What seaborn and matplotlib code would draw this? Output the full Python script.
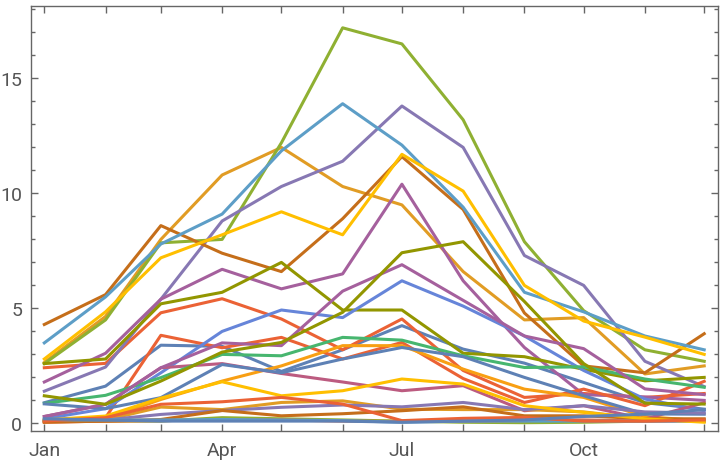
import pandas as pd
import seaborn as sns
import matplotlib.pyplot as plt
import matplotlib.dates as mdates
from matplotlib.ticker import MultipleLocator

plt.rcParams['font.family'] = ['Roboto', 'DejaVu Sans']
plt.rcParams['font.size'] = 14

months = pd.date_range('2023-01-01', periods=12, freq='MS')
month_labels = ['Jan', 'Apr', 'Jul', 'Oct']

# one list per series, Jan..Dec
steel_a = [0.9, 1.62, 3.4, 3.35, 2.26, 3.2, 4.25, 3.23, 2.62, 1.78, 0.9, 0.62]
orange_a = [2.65, 4.65, 8.0, 10.8, 12.0, 10.3, 9.5, 6.6, 4.5, 4.6, 2.15, 2.5]
green_a = [2.6, 4.5, 7.85, 8.0, 12.2, 17.2, 16.5, 13.2, 7.9, 4.9, 3.2, 2.7]
red_a = [2.42, 2.61, 4.81, 5.42, 4.54, 3.2, 4.54, 2.3, 1.13, 1.3, 1.13, 1.3]
lav_a = [1.4, 2.45, 5.4, 8.8, 10.3, 11.4, 13.8, 12.0, 7.3, 6.0, 2.7, 1.6]
brown_a = [4.3, 5.6, 8.6, 7.4, 6.6, 8.9, 11.6, 9.3, 4.8, 2.5, 2.2, 3.9]
sky_a = [3.5, 5.5, 7.8, 9.1, 11.85, 13.9, 12.1, 9.4, 5.7, 4.85, 3.8, 3.2]
yellow_a = [2.8, 4.85, 7.2, 8.2, 9.2, 8.2, 11.7, 10.1, 6.0, 4.45, 3.75, 3.0]
mag_a = [1.8, 3.05, 5.4, 6.7, 5.85, 6.5, 10.4, 6.2, 3.3, 1.25, 1.15, 1.0]
olive_a = [2.6, 2.8, 5.2, 5.7, 7.0, 4.93, 4.93, 3.05, 2.9, 2.35, 1.85, 2.0]
red_b = [0.1, 0.25, 3.83, 3.29, 3.74, 2.8, 3.52, 1.95, 0.91, 1.49, 0.77, 1.83]
blue_a = [0.2, 0.64, 2.2, 4.0, 4.93, 4.6, 6.2, 5.1, 3.8, 2.3, 1.06, 0.55]
orange2_a = [0.1, 0.2, 1.04, 1.84, 2.5, 3.38, 3.38, 2.36, 1.49, 1.13, 0.3, 0.1]
pink_a = [0.3, 0.83, 2.42, 2.6, 2.17, 1.8, 1.42, 1.64, 0.55, 0.77, 0.19, 0.9]
green2_a = [0.87, 1.22, 1.99, 3.0, 2.94, 3.74, 3.62, 2.94, 2.43, 2.46, 1.93, 1.57]
steel_b = [0.85, 0.64, 1.12, 2.56, 2.2, 2.8, 3.3, 2.9, 2.0, 1.2, 0.41, 0.4]
orange_b = [0.1, 0.15, 0.71, 0.6, 0.91, 0.98, 0.62, 0.6, 0.6, 0.5, 0.2, 0.1]
green_b = [0.1, 0.1, 0.1, 0.25, 0.2, 0.15, 0.1, 0.05, 0.03, 0.05, 0.1, 0.15]
red_c = [0.05, 0.1, 0.12, 0.15, 0.15, 0.1, 0.08, 0.1, 0.12, 0.15, 0.1, 0.1]
lav_b = [0.1, 0.15, 0.39, 0.56, 0.7, 0.8, 0.72, 0.91, 0.6, 0.77, 0.5, 0.45]
brown_b = [0.05, 0.1, 0.17, 0.56, 0.33, 0.42, 0.55, 0.72, 0.33, 0.33, 0.2, 0.2]
sky_b = [0.15, 0.15, 0.15, 0.17, 0.15, 0.12, 0.05, 0.1, 0.1, 0.1, 0.1, 0.1]
yellow_b = [0.15, 0.32, 1.1, 1.81, 1.2, 1.42, 1.93, 1.71, 0.77, 0.48, 0.2, 0.05]
mag_b = [0.3, 0.83, 2.42, 3.5, 3.38, 5.75, 6.9, 5.35, 3.8, 3.25, 1.5, 1.25]
olive_b = [1.2, 0.83, 1.84, 3.1, 3.52, 4.83, 7.42, 7.9, 5.3, 2.6, 0.88, 0.84]
red_d = [0.1, 0.25, 0.83, 0.94, 1.13, 0.84, 0.12, 0.22, 0.26, 0.1, 0.1, 0.15]
steel_c = [0.2, 0.15, 0.1, 0.1, 0.1, 0.1, 0.05, 0.1, 0.15, 0.3, 0.4, 0.6]

series = {
    'steel_a': steel_a, 'orange_a': orange_a, 'green_a': green_a, 'red_a': red_a,
    'lav_a': lav_a, 'brown_a': brown_a, 'sky_a': sky_a, 'yellow_a': yellow_a,
    'mag_a': mag_a, 'olive_a': olive_a, 'red_b': red_b, 'blue_a': blue_a,
    'orange2_a': orange2_a, 'pink_a': pink_a, 'green2_a': green2_a,
    'steel_b': steel_b, 'orange_b': orange_b, 'green_b': green_b, 'red_c': red_c,
    'lav_b': lav_b, 'brown_b': brown_b, 'sky_b': sky_b, 'yellow_b': yellow_b,
    'mag_b': mag_b, 'olive_b': olive_b, 'red_d': red_d, 'steel_c': steel_c,
}

# Mathematica default colours
base = {'steel': '#5E81B5', 'orange': '#E19C24', 'green': '#8FB032', 'red': '#EB6235',
        'lav': '#8778B3', 'brown': '#C56E1A', 'sky': '#5D9EC7', 'yellow': '#FFBF00',
        'mag': '#A5609D', 'olive': '#929600', 'blue': '#6685D9', 'orange2': '#F89F13',
        'pink': '#BC5B80', 'green2': '#47B66F'}
palette = {k: base[k.rsplit('_', 1)[0]] for k in series}

rows = []
for name, vals in series.items():
    for d, v in zip(months, vals):
        rows.append([d, v, name])
df = pd.DataFrame(rows, columns=['date', 'value', 'series'])

fig = plt.figure(figsize=(7.2, 4.64), dpi=100)
ax = fig.add_axes([0.0426, 0.069, 0.9544, 0.915])
sns.lineplot(data=df, x='date', y='value', hue='series', palette=palette,
             linewidth=2.2, legend=False, ax=ax)

pad = pd.Timedelta(days=6.9)
ax.set_xlim(months[0] - pad, months[-1] + pad)
ax.set_ylim(-0.33, 18.13)

ax.xaxis.set_major_locator(mdates.MonthLocator())
ax.xaxis.set_major_formatter(plt.FuncFormatter(
    lambda x, p: mdates.num2date(x).strftime('%b') if mdates.num2date(x).strftime('%b') in month_labels else ''))
ax.yaxis.set_major_locator(MultipleLocator(5))
ax.yaxis.set_minor_locator(MultipleLocator(1))

gray = '#666666'
for s in ax.spines.values():
    s.set_color(gray)
    s.set_linewidth(1.0)
ax.tick_params(which='both', direction='in', top=True, right=True, color=gray,
               labelcolor='#555555', width=1.0)
ax.tick_params(which='major', length=5)
ax.tick_params(which='minor', length=3)
ax.tick_params(axis='x', pad=7)
ax.tick_params(axis='y', pad=6)
ax.set_xlabel('')
ax.set_ylabel('')

fig.savefig('out.png', dpi=100)
